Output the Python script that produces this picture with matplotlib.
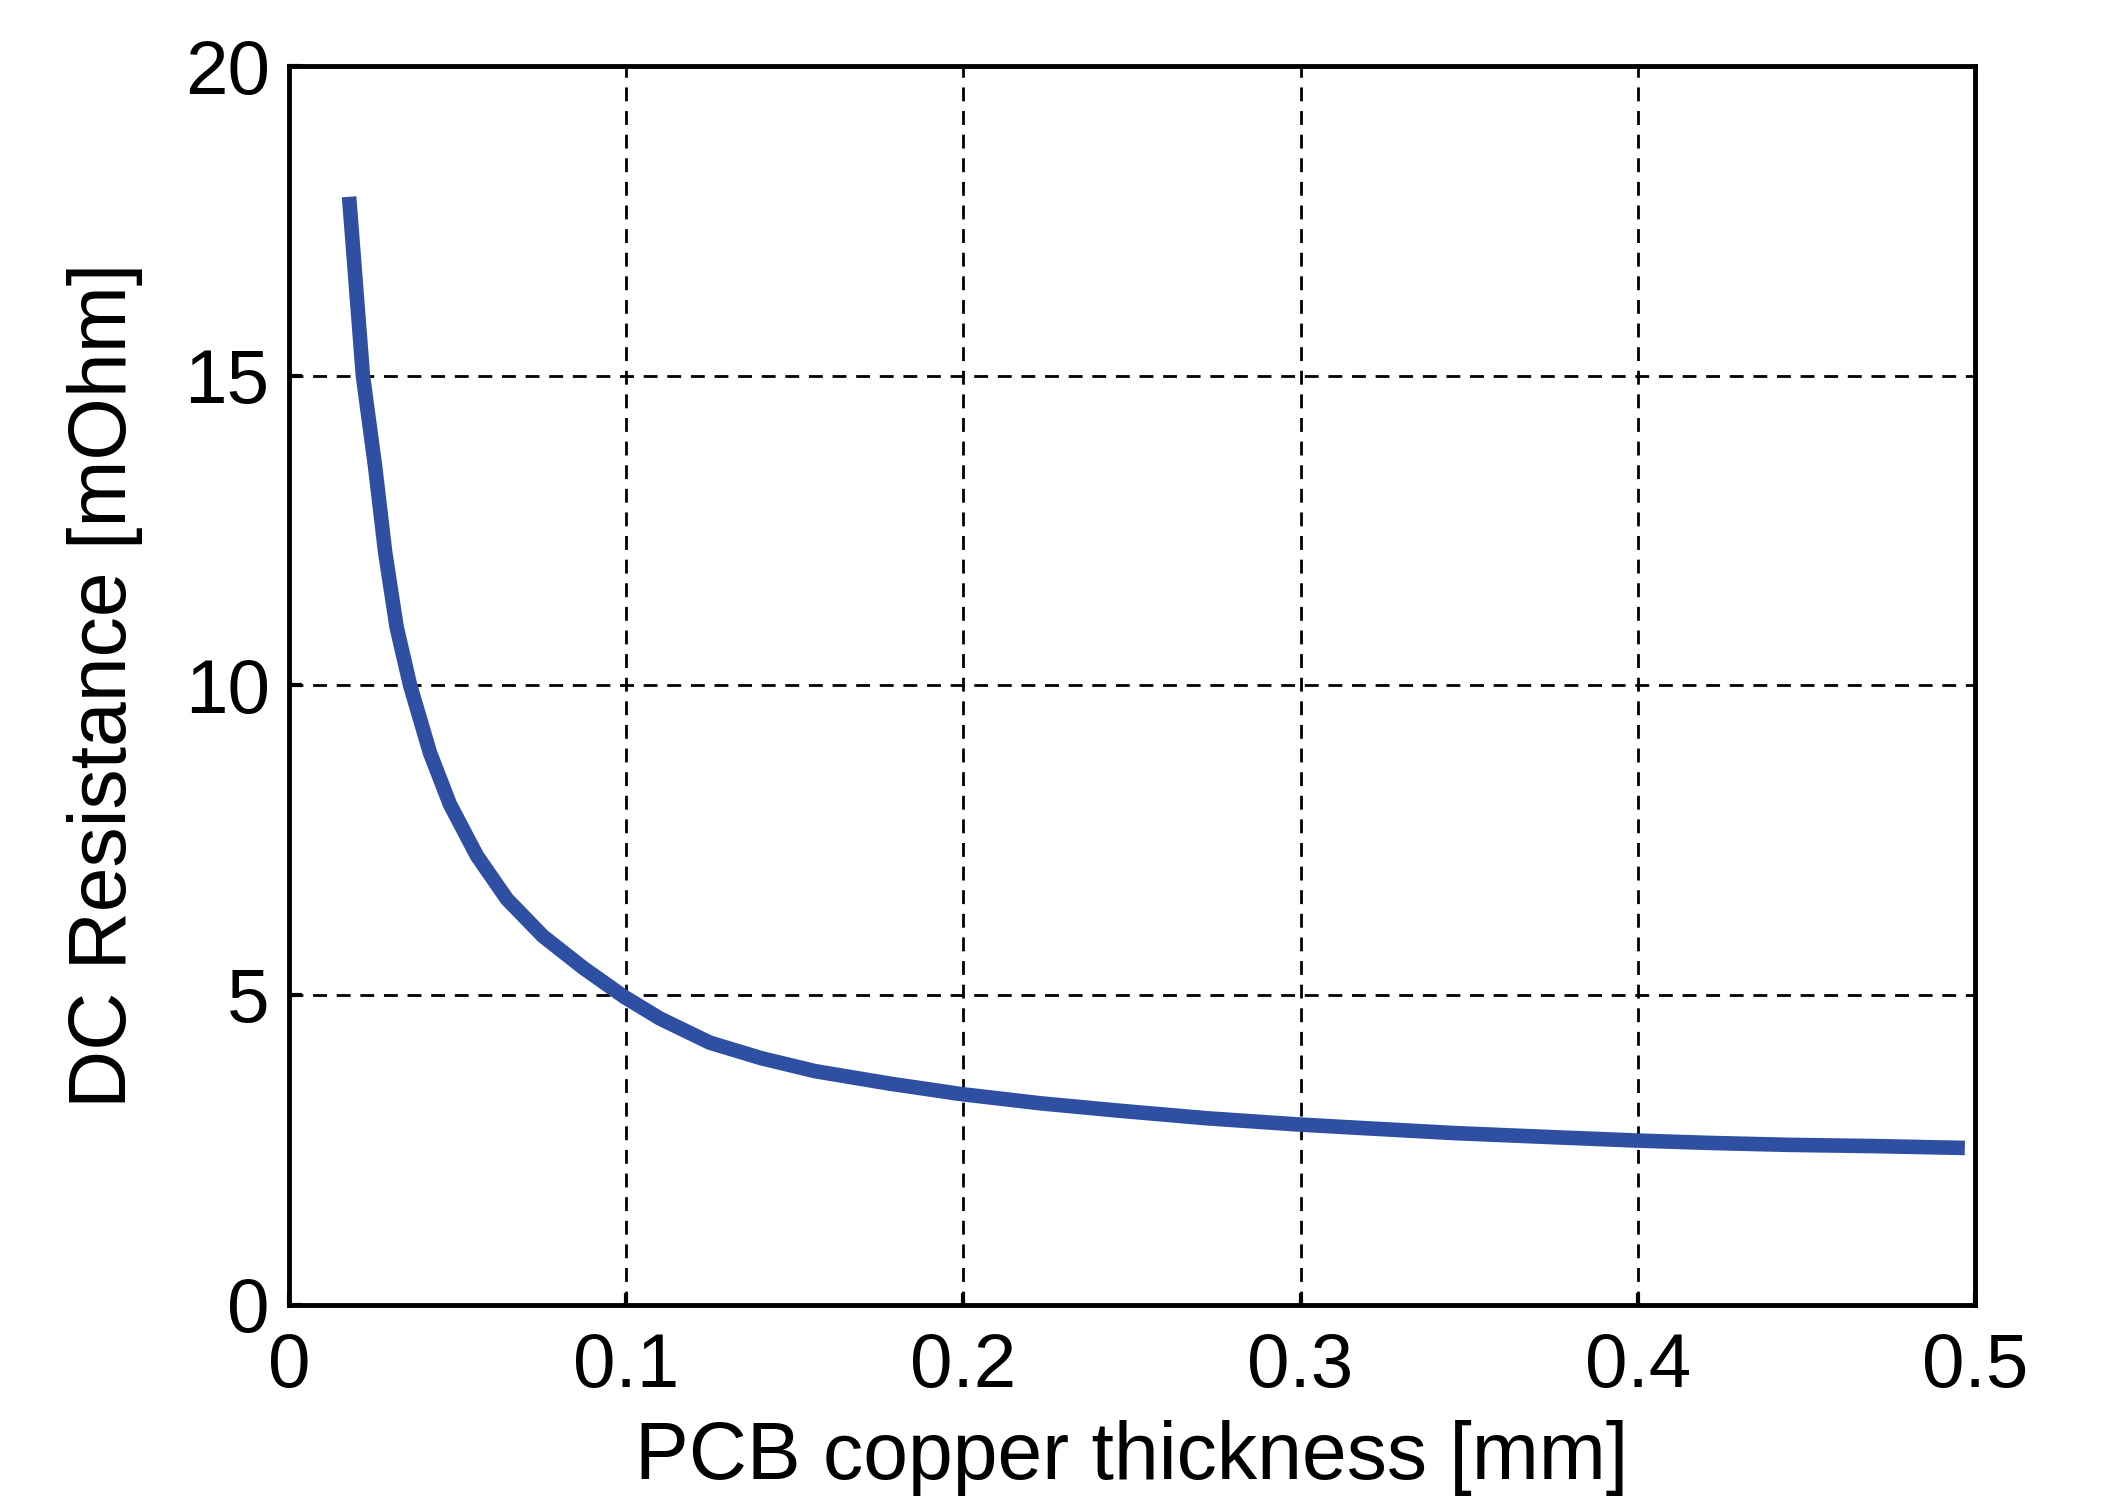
import numpy as np
import matplotlib
matplotlib.use('Agg')
import matplotlib.pyplot as plt

# values
thickness = [0.0178, 0.0219, 0.0255, 0.0285, 0.0319, 0.0359, 0.0418, 0.0477,
             0.0557, 0.0646, 0.0753, 0.0872, 0.0994, 0.1100, 0.1248, 0.1400,
             0.1560, 0.1780, 0.1993, 0.2230, 0.2465, 0.2720, 0.2990, 0.3220,
             0.3456, 0.3720, 0.3993, 0.4220, 0.4446, 0.4700, 0.4970]
resistance = [17.89, 15.00, 13.54, 12.15, 10.94, 10.00, 8.91, 8.08,
              7.25, 6.55, 5.95, 5.44, 4.97, 4.62, 4.23, 3.98,
              3.77, 3.57, 3.40, 3.25, 3.13, 3.01, 2.91, 2.84,
              2.77, 2.71, 2.65, 2.61, 2.58, 2.56, 2.53]

xticks = [0, 0.1, 0.2, 0.3, 0.4, 0.5]
xticklabels = ['0', '0.1', '0.2', '0.3', '0.4', '0.5']
yticks = [0, 5, 10, 15, 20]

plt.rcParams['font.family'] = ['Liberation Sans', 'DejaVu Sans']

fig = plt.figure(figsize=(21.1, 15.03), dpi=100)
ax = fig.add_axes([0.137, 0.132, 0.799, 0.824])

ax.plot(thickness, resistance, color='#2f4fa2', lw=10.5, solid_capstyle='butt',
        solid_joinstyle='round')

ax.set_xlim(0, 0.5)
ax.set_ylim(0, 20)
ax.set_xticks(xticks)
ax.set_xticklabels(xticklabels)
ax.set_yticks(yticks)
ax.grid(True, color='black', linestyle=(0, (5, 3.5)), linewidth=2.0)
ax.tick_params(direction='in', length=9, width=3, labelsize=55, pad=20,
               top=False, right=False)
ax.tick_params(axis='y', pad=14)

for s in ax.spines.values():
    s.set_linewidth(3.5)

ax.set_xlabel('PCB copper thickness [mm]', fontsize=58, labelpad=12)
ax.set_ylabel('DC Resistance [mOhm]', fontsize=58, labelpad=30)

fig.savefig('out.png', dpi=100)
